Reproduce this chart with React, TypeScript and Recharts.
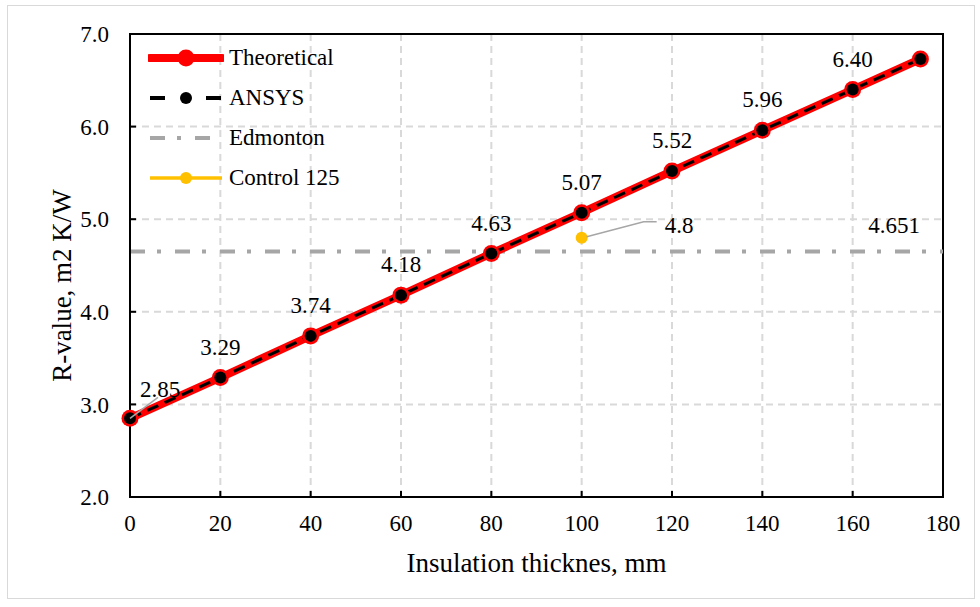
import React from "react";
import {
  ComposedChart,
  Line,
  XAxis,
  YAxis,
  CartesianGrid,
  ReferenceArea,
  LabelList,
  Legend,
} from "recharts";

// insulation thickness, mm
const thickness = [0, 20, 40, 60, 80, 100, 120, 140, 160, 175];
// R-value, m2 K/W
const theoretical = [2.85, 3.29, 3.74, 4.18, 4.63, 5.07, 5.52, 5.96, 6.4, 6.73];
const ansys = [2.85, 3.29, 3.74, 4.18, 4.63, 5.07, 5.52, 5.96, 6.4, 6.73];
const edmontonX = [0, 180];
const edmontonR = 4.651;
const controlX = [100];
const controlR = [4.8];

const xTicks = [0, 20, 40, 60, 80, 100, 120, 140, 160, 180];
const yTicks = [2, 3, 4, 5, 6, 7];

const FONT = "'Liberation Serif', 'Times New Roman', serif";
const RED = "#ff0000";
const GREY = "#a6a6a6";
const GOLD = "#ffc000";

const mainData = thickness.map((t, i) => ({ t, theo: theoretical[i], ansys: ansys[i] }));
const edmontonData = edmontonX.map((t) => ({ t, edm: edmontonR }));
const controlData = controlX.map((t, i) => ({ t, ctrl: controlR[i] }));

const textStyle = { fontFamily: FONT, fontSize: 23, fill: "#000" };
const titleStyle = { fontFamily: FONT, fontSize: 27, fill: "#000" };

// value labels above the theoretical points; the first one is pulled aside with a leader
const TheoLabel = (props: any) => {
  const { x, y, value, index } = props;
  if (index === thickness.length - 1) return null;
  const txt = Number(value).toFixed(2);
  if (index === 0) {
    return (
      <g>
        <line x1={x} y1={y} x2={x + 28} y2={y - 21} stroke={GREY} strokeWidth={1.5} />
        <text x={x + 30} y={y - 29} dy="0.35em" textAnchor="middle" style={textStyle}>
          {txt}
        </text>
      </g>
    );
  }
  return (
    <text x={x} y={y - 31} dy="0.35em" textAnchor="middle" style={textStyle}>
      {txt}
    </text>
  );
};

const ControlLabel = (props: any) => {
  const { x, y, value } = props;
  return (
    <g>
      <polyline
        points={`${x + 5},${y - 1} ${x + 62},${y - 16} ${x + 75},${y - 16}`}
        fill="none"
        stroke={GREY}
        strokeWidth={1.5}
      />
      <text x={x + 83} y={y - 13} dy="0.35em" textAnchor="start" style={textStyle}>
        {value}
      </text>
    </g>
  );
};

const EdmontonLabel = (props: any) => {
  const { x, y, value, index } = props;
  if (index !== edmontonX.length - 1) return null;
  return (
    <text x={x - 49} y={y - 27} dy="0.35em" textAnchor="middle" style={textStyle}>
      {value}
    </text>
  );
};

// rotated y title, sitting a little below the plot's middle
const YTitle = (props: any) => {
  const { viewBox } = props;
  const cx = viewBox.x + 32;
  const cy = viewBox.y + viewBox.height / 2 + 20;
  return (
    <text
      x={cx}
      y={cy}
      dy="0.35em"
      textAnchor="middle"
      transform={`rotate(-90, ${cx}, ${cy})`}
      style={titleStyle}
    >
      R-value, m2 K/W
    </text>
  );
};

const legendItems = [
  {
    name: "Theoretical",
    sample: (
      <>
        <line x1={2} y1={10} x2={74} y2={10} stroke={RED} strokeWidth={8} strokeLinecap="round" />
        <circle cx={38} cy={10} r={8.5} fill={RED} />
      </>
    ),
  },
  {
    name: "ANSYS",
    sample: (
      <>
        <line x1={2} y1={10} x2={17} y2={10} stroke="#000" strokeWidth={4} />
        <circle cx={38} cy={10} r={6} fill="#000" />
        <line x1={58} y1={10} x2={73} y2={10} stroke="#000" strokeWidth={4} />
      </>
    ),
  },
  {
    name: "Edmonton",
    sample: (
      <line
        x1={2}
        y1={10}
        x2={74}
        y2={10}
        stroke={GREY}
        strokeWidth={4}
        strokeDasharray="15 12 4 14"
      />
    ),
  },
  {
    name: "Control 125",
    sample: (
      <>
        <line x1={2} y1={10} x2={74} y2={10} stroke={GOLD} strokeWidth={3.5} />
        <circle cx={38} cy={10} r={6} fill={GOLD} />
      </>
    ),
  },
];

const LegendBox = () => (
  <div style={{ fontFamily: FONT, fontSize: 23, color: "#000" }}>
    {legendItems.map((it) => (
      <div key={it.name} style={{ display: "flex", alignItems: "center", height: 40 }}>
        <svg width={76} height={20} style={{ marginRight: 5 }}>
          {it.sample}
        </svg>
        <span>{it.name}</span>
      </div>
    ))}
  </div>
);

export default function App() {
  return (
    <div
      style={{
        position: "absolute",
        left: 0,
        top: 0,
        width: 980,
        height: 607,
        background: "#fff",
        fontFamily: FONT,
      }}
    >
      <div
        style={{
          position: "absolute",
          left: 7,
          top: 5,
          width: 968,
          height: 594,
          border: "1px solid #d9d9d9",
          boxSizing: "border-box",
        }}
      />
      <ComposedChart
        width={980}
        height={607}
        margin={{ top: 34, right: 37, bottom: 0, left: 30 }}
        style={{ position: "absolute", left: 0, top: 0 }}
      >
        <CartesianGrid
          stroke="#d9d9d9"
          strokeWidth={2}
          strokeDasharray="7 5"
          horizontalValues={[3, 4, 5, 6]}
          verticalValues={[20, 40, 60, 80, 100, 120, 140, 160]}
        />
        <XAxis
          dataKey="t"
          type="number"
          domain={[0, 180]}
          ticks={xTicks}
          interval={0}
          height={110}
          allowDuplicatedCategory={false}
          axisLine={{ stroke: "#000", strokeWidth: 2 }}
          tickLine={{ stroke: "#000", strokeWidth: 2 }}
          tickSize={-6}
          tickMargin={24}
          tick={textStyle}
          label={{
            value: "Insulation thicknes, mm",
            position: "insideBottom",
            offset: 35,
            style: titleStyle,
          }}
        />
        <YAxis
          type="number"
          domain={[2, 7]}
          ticks={yTicks}
          interval={0}
          width={100}
          axisLine={{ stroke: "#000", strokeWidth: 2 }}
          tickLine={{ stroke: "#000", strokeWidth: 2 }}
          tickSize={-6}
          tickMargin={27}
          tick={textStyle}
          tickFormatter={(v) => Number(v).toFixed(1)}
          label={<YTitle />}
        />
        <ReferenceArea x1={0} x2={180} y1={2} y2={7} fill="none" stroke="#000" strokeWidth={2} />
        <Line
          data={edmontonData}
          dataKey="edm"
          name="Edmonton"
          stroke={GREY}
          strokeWidth={4}
          strokeDasharray="15 12 4 14"
          dot={false}
          isAnimationActive={false}
        >
          <LabelList dataKey="edm" content={<EdmontonLabel />} />
        </Line>
        <Line
          data={mainData}
          dataKey="theo"
          name="Theoretical"
          stroke={RED}
          strokeWidth={8}
          dot={{ r: 8.5, fill: RED, stroke: "none" }}
          isAnimationActive={false}
        >
          <LabelList dataKey="theo" content={<TheoLabel />} />
        </Line>
        <Line
          data={mainData}
          dataKey="ansys"
          name="ANSYS"
          stroke="#000"
          strokeWidth={3}
          strokeDasharray="12 7"
          dot={{ r: 6, fill: "#000", stroke: "none" }}
          isAnimationActive={false}
        />
        <Line
          data={controlData}
          dataKey="ctrl"
          name="Control 125"
          stroke={GOLD}
          strokeWidth={3}
          dot={{ r: 6, fill: GOLD, stroke: "none" }}
          isAnimationActive={false}
        >
          <LabelList dataKey="ctrl" content={<ControlLabel />} />
        </Line>
        <Legend
          layout="vertical"
          align="center"
          verticalAlign="middle"
          content={<LegendBox />}
          wrapperStyle={{ position: "absolute", left: 148, top: 38, width: 260, height: 160 }}
        />
      </ComposedChart>
    </div>
  );
}
